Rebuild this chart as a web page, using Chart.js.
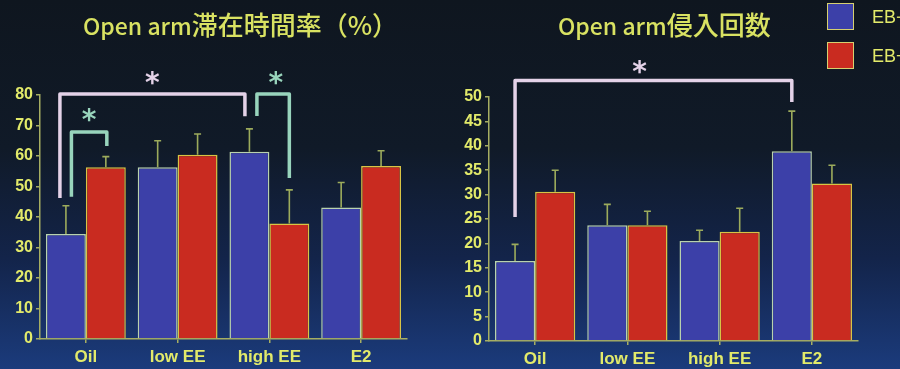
<!DOCTYPE html>
<html>
<head>
<meta charset="utf-8">
<script src="https://cdn.jsdelivr.net/npm/chart.js@4.4.1/dist/chart.umd.min.js"></script>
<style>
  html, body { margin: 0; padding: 0; }
  body {
    width: 900px; height: 369px; overflow: hidden; position: relative;
    background: linear-gradient(to bottom, #0f161f 0%, #101a28 40%, #13244a 70%, #1b3b7c 100%);
  }
  .panel { position: absolute; top: 0; width: 450px; height: 369px; }
  .title {
    position: absolute; top: 9px; white-space: nowrap; color: #d9e262; font-weight: 500;
    font-family: "Noto Sans CJK JP", "Noto Sans", sans-serif; line-height: 30px;
  }
  .title .lat { font-size: 23px; }
  .title .cjk { font-size: 26px; }
  .legend { position: absolute; left: 827px; font-family: "Liberation Sans", Arial, sans-serif;
    font-size: 18px; color: #e2ea6a; }
  .legend .sw { position: absolute; left: 0; top: 0; width: 25px; height: 25px; border: 1.5px solid #d6d070; }
  .legend .tx { position: absolute; left: 45px; top: 4px; white-space: nowrap; }
</style>
</head>
<body>
<div class="panel" style="left:0"><canvas id="stay"></canvas></div>
<div class="panel" style="left:450px"><canvas id="entry"></canvas></div>
<div class="title" style="left:83px"><span class="lat">Open arm</span><span class="cjk">滞在時間率（%）</span></div>
<div class="title" style="left:558px"><span class="lat">Open arm</span><span class="cjk">侵入回数</span></div>
<div class="legend" style="top:3px"><div class="sw" style="background:#3c40a8"></div><div class="tx">EB−</div></div>
<div class="legend" style="top:42px"><div class="sw" style="background:#c92b20"></div><div class="tx">EB+</div></div>
<script>
// Groups and series
const groups = ['Oil', 'low EE', 'high EE', 'E2'];
const seriesNames = ['EB−', 'EB+'];

// Open arm time ratio (%), mean and SEM
const stayMinus = [34.4, 56.3, 61.4, 43.1];
const stayMinusSem = [9.3, 8.7, 7.5, 8.2];
const stayPlus = [56.3, 60.4, 37.9, 56.7];
const stayPlusSem = [3.5, 6.8, 11.0, 5.0];

// Open arm entries, mean and SEM
const entryMinus = [16.4, 23.7, 20.5, 38.9];
const entryMinusSem = [3.4, 4.3, 2.2, 8.2];
const entryPlus = [30.6, 23.7, 22.4, 32.3];
const entryPlusSem = [4.4, 2.9, 4.8, 3.7];

const BLUE = '#3c40a8', RED = '#c92b20';
const BLUE_EDGE = '#b9d2ae', RED_EDGE = '#d8c444';
const AXIS = '#a6ae62', TICK_TEXT = '#e2ea6a', ERR = '#9cab5c';
const PINK = '#e4d2e8', MINT = '#98d4bc';
const FONT = '"Liberation Sans", Arial, sans-serif';

// Upper error bars with caps, drawn from each dataset's "sem" array
const errorBars = {
  id: 'errorBars',
  afterDatasetsDraw(chart) {
    const ctx = chart.ctx, ys = chart.scales.y;
    ctx.save();
    ctx.strokeStyle = ERR; ctx.lineWidth = 1.6;
    chart.data.datasets.forEach((ds, di) => {
      const meta = chart.getDatasetMeta(di);
      meta.data.forEach((bar, i) => {
        const top = ys.getPixelForValue(ds.data[i] + ds.sem[i]);
        ctx.beginPath();
        ctx.moveTo(bar.x, bar.y); ctx.lineTo(bar.x, top);
        ctx.moveTo(bar.x - 3.5, top); ctx.lineTo(bar.x + 3.5, top);
        ctx.stroke();
      });
    });
    ctx.restore();
  }
};

// Significance brackets with asterisks
const brackets = {
  id: 'brackets',
  afterDraw(chart, args, opts) {
    const ctx = chart.ctx, ys = chart.scales.y;
    const px = (ref) => chart.getDatasetMeta(ref.ds).data[ref.i].x + ref.dx;
    ctx.save();
    (opts.items || []).forEach(b => {
      const x1 = px(b.from), x2 = px(b.to);
      const yTop = ys.getPixelForValue(b.top);
      ctx.strokeStyle = b.color; ctx.lineWidth = 3.5;
      ctx.lineJoin = 'round'; ctx.lineCap = 'butt';
      ctx.beginPath();
      ctx.moveTo(x1, ys.getPixelForValue(b.fromLow));
      ctx.lineTo(x1, yTop); ctx.lineTo(x2, yTop);
      ctx.lineTo(x2, ys.getPixelForValue(b.toLow));
      ctx.stroke();
      // asterisk
      ctx.fillStyle = b.color;
      ctx.font = 'bold 28px "DejaVu Sans"';
      ctx.textAlign = 'center'; ctx.textBaseline = 'alphabetic';
      const m = ctx.measureText('*');
      const sx = x1 + (x2 - x1) * b.starAt;
      const sy = ys.getPixelForValue(b.starY);
      ctx.fillText('*', sx, sy + (m.actualBoundingBoxAscent - m.actualBoundingBoxDescent) / 2);
    });
    ctx.restore();
  }
};

function makeChart(id, minus, minusSem, plus, plusSem, yMax, step, geom, bracketItems) {
  return new Chart(document.getElementById(id), {
    type: 'bar',
    data: {
      labels: groups,
      datasets: [
        { label: seriesNames[0], data: minus, sem: minusSem, backgroundColor: BLUE,
          borderColor: BLUE_EDGE, borderWidth: 1.5 },
        { label: seriesNames[1], data: plus, sem: plusSem, backgroundColor: RED,
          borderColor: RED_EDGE, borderWidth: 1.5 }
      ]
    },
    options: {
      responsive: true, maintainAspectRatio: false, animation: false,
      categoryPercentage: 0.87, barPercentage: 1.0,
      layout: { padding: { top: geom.top, right: geom.right, left: 0, bottom: 0 } },
      plugins: {
        legend: { display: false }, tooltip: { enabled: false },
        brackets: { items: bracketItems }
      },
      scales: {
        x: {
          offset: true,
          grid: { display: true, offset: false, drawOnChartArea: false, drawTicks: true,
                  tickLength: 4, color: AXIS, lineWidth: 1.5 },
          border: { display: true, color: AXIS, width: 1.5 },
          ticks: { color: TICK_TEXT, padding: 4,
                   font: { family: FONT, size: 17, weight: 'bold' } },
          afterFit(s) { s.height = geom.xh; }
        },
        y: {
          min: 0, max: yMax,
          grid: { display: true, drawOnChartArea: false, drawTicks: true,
                  tickLength: 4, color: AXIS, lineWidth: 1.5 },
          border: { display: true, color: AXIS, width: 1.5 },
          ticks: { stepSize: step / 2, color: TICK_TEXT, padding: 3,
                   font: { family: FONT, size: 16, weight: 'bold' },
                   callback: v => (Math.abs(v / step - Math.round(v / step)) < 1e-6 ? v : '') },
          afterFit(s) { s.width = geom.yw; }
        }
      }
    },
    plugins: [errorBars, brackets]
  });
}

makeChart('stay', stayMinus, stayMinusSem, stayPlus, stayPlusSem, 80, 10,
  { top: 95, right: 43, xh: 30, yw: 40 },
  [
    { from: { ds: 0, i: 0, dx: -6 }, to: { ds: 0, i: 2, dx: -4.5 },
      fromLow: 46.2, top: 80.3, toLow: 73.0, color: PINK, starAt: 0.5, starY: 85.6 },
    { from: { ds: 0, i: 0, dx: 5.5 }, to: { ds: 1, i: 0, dx: 1 },
      fromLow: 46.6, top: 67.9, toLow: 63.3, color: MINT, starAt: 0.5, starY: 73.4 },
    { from: { ds: 0, i: 2, dx: 7.5 }, to: { ds: 1, i: 2, dx: 0 },
      fromLow: 73.1, top: 80.3, toLow: 52.8, color: MINT, starAt: 0.58, starY: 85.6 }
  ]);

makeChart('entry', entryMinus, entryMinusSem, entryPlus, entryPlusSem, 50, 5,
  { top: 97, right: 42, xh: 28, yw: 39 },
  [
    { from: { ds: 0, i: 0, dx: 0 }, to: { ds: 0, i: 3, dx: 0 },
      fromLow: 25.4, top: 53.4, toLow: 49.0, color: PINK, starAt: 0.45, starY: 56.1 }
  ]);
</script>
</body>
</html>
